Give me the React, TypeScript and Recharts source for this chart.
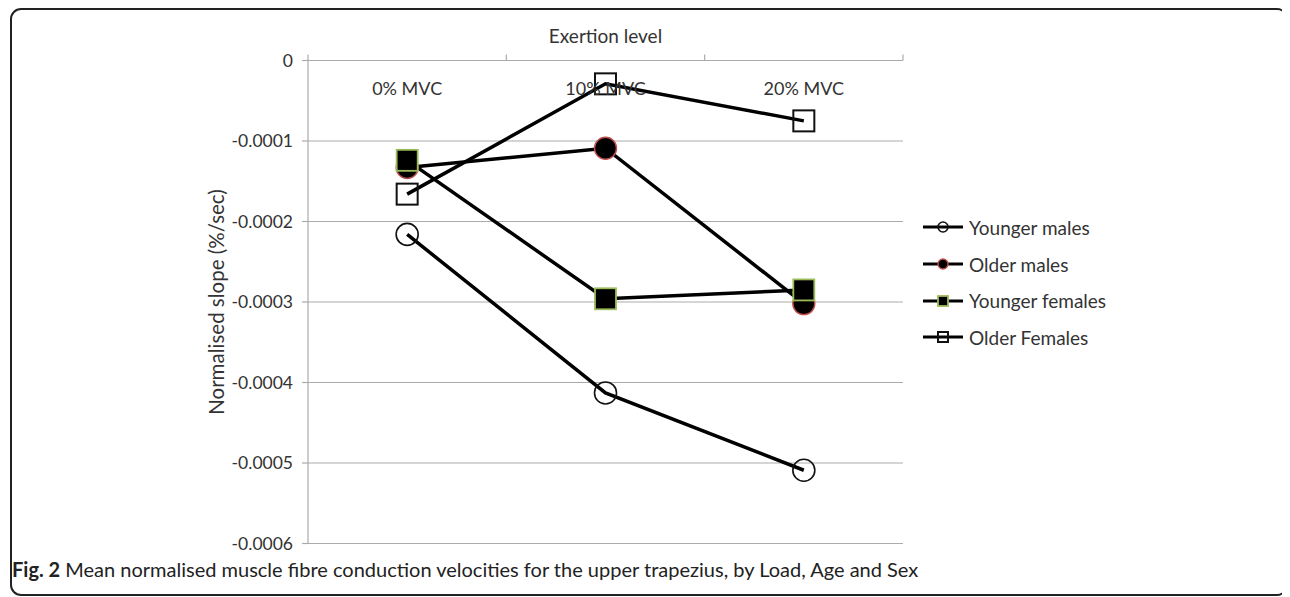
import React from 'react';
import { LineChart, Line, XAxis, YAxis, CartesianGrid, Legend } from 'recharts';

const categories = ['0% MVC', '10% MVC', '20% MVC'];
const youngerMales = [-0.000216, -0.000413, -0.000509];
const olderMales = [-0.000133, -0.000109, -0.000302];
const youngerFemales = [-0.000124, -0.000296, -0.000285];
const olderFemales = [-0.000166, -0.000029, -0.000075];
const yTicks = [0, -0.0001, -0.0002, -0.0003, -0.0004, -0.0005, -0.0006];
const xTicks = [0, 0.5, 1, 1.5, 2, 2.5, 3];

const data = categories.map((c, i) => ({
  pos: i + 0.5,
  cat: c,
  ym: youngerMales[i],
  om: olderMales[i],
  yf: youngerFemales[i],
  of: olderFemales[i],
}));

type Marker = 'openCircle' | 'filledCircle' | 'filledSquare' | 'openSquare';

const series: { key: string; name: string; marker: Marker }[] = [
  { key: 'ym', name: 'Younger males', marker: 'openCircle' },
  { key: 'om', name: 'Older males', marker: 'filledCircle' },
  { key: 'yf', name: 'Younger females', marker: 'filledSquare' },
  { key: 'of', name: 'Older Females', marker: 'openSquare' },
];

const FONT = 'Lato, "Open Sans", sans-serif';
const GRID = '#ababab';

function drawMarker(marker: Marker, cx: number, cy: number, size: number, key?: string) {
  const r = size / 2;
  switch (marker) {
    case 'openCircle':
      return <circle key={key} cx={cx} cy={cy} r={r} fill="none" stroke="#111" strokeWidth={1.6} />;
    case 'filledCircle':
      return <circle key={key} cx={cx} cy={cy} r={r} fill="#000" stroke="#c0504d" strokeWidth={1.4} />;
    case 'filledSquare':
      return <rect key={key} x={cx - r} y={cy - r} width={size} height={size} fill="#000" stroke="#9bbb59" strokeWidth={1.8} />;
    case 'openSquare':
    default:
      return <rect key={key} x={cx - r} y={cy - r} width={size} height={size} fill="none" stroke="#111" strokeWidth={2} />;
  }
}

const XTick = (props: any) => {
  const { x, y, payload } = props;
  const v = payload.value as number;
  if (Number.isInteger(v)) {
    return <line x1={x} y1={y} x2={x} y2={y - 6} stroke={GRID} strokeWidth={1.2} />;
  }
  return (
    <text x={x} y={y + 34} textAnchor="middle" fill="#333" fontSize={18} fontFamily={FONT}>
      {categories[Math.floor(v)]}
    </text>
  );
};

const LegendContent = () => (
  <div style={{ fontFamily: FONT, fontSize: 19, color: '#333' }}>
    {series.map((s) => (
      <div key={s.key} style={{ display: 'flex', alignItems: 'center', height: 36.7 }}>
        <svg width={42} height={20} style={{ display: 'block' }}>
          <line x1={0} y1={10} x2={40} y2={10} stroke="#000" strokeWidth={3} />
          {drawMarker(s.marker, 20, 10, 10)}
        </svg>
        <span style={{ marginLeft: 4, whiteSpace: 'nowrap' }}>{s.name}</span>
      </div>
    ))}
  </div>
);

export default function App() {
  return (
    <div style={{ position: 'relative', width: 1280, height: 589 }}>
      <div
        style={{
          position: 'absolute',
          left: 2,
          top: 0,
          width: 1278,
          height: 588,
          boxSizing: 'border-box',
          border: '2px solid #222',
          borderRadius: 11,
        }}
      />
      <div style={{ position: 'absolute', left: 0, top: 0 }}>
        <LineChart
          width={1280}
          height={589}
          data={data}
          margin={{ top: 12.5, right: 385, bottom: 53.5, left: 0 }}
        >
          <CartesianGrid vertical={false} stroke={GRID} strokeWidth={1.2} />
          <XAxis
            dataKey="pos"
            type="number"
            domain={[0, 3]}
            ticks={xTicks}
            orientation="top"
            height={40}
            axisLine={{ stroke: GRID, strokeWidth: 1.2 }}
            tickLine={false}
            tickSize={0}
            tickMargin={0}
            tick={<XTick />}
            interval={0}
            label={(p: any) => {
              const vb = p.viewBox || {};
              return (
                <text
                  x={vb.x + vb.width / 2}
                  y={vb.y + 22.5}
                  textAnchor="middle"
                  fill="#333"
                  fontSize={19}
                  fontFamily={FONT}
                >
                  Exertion level
                </text>
              );
            }}
          />
          <YAxis
            type="number"
            domain={[-0.0006, 0]}
            ticks={yTicks}
            width={300}
            interval={0}
            axisLine={{ stroke: GRID, strokeWidth: 1.2 }}
            tickLine={{ stroke: GRID, strokeWidth: 1.2 }}
            tickSize={6}
            tickMargin={9}
            tick={{ fill: '#333', fontSize: 17.5, fontFamily: FONT }}
            tickFormatter={(v: number) => (v === 0 ? '0' : v.toFixed(4))}
            label={(p: any) => {
              const vb = p.viewBox || {};
              const cx = vb.x + vb.width - 92;
              const cy = vb.y + vb.height / 2;
              return (
                <text
                  x={cx}
                  y={cy}
                  transform={`rotate(-90 ${cx} ${cy})`}
                  textAnchor="middle"
                  dominantBaseline="central"
                  fill="#333"
                  fontSize={20.5}
                  fontFamily={FONT}
                >
                  Normalised slope (%/sec)
                </text>
              );
            }}
          />
          {series.map((s) => (
            <Line
              key={s.key}
              dataKey={s.key}
              name={s.name}
              type="linear"
              stroke="#000"
              strokeWidth={3.5}
              isAnimationActive={false}
              dot={(dp: any) =>
                drawMarker(
                  s.marker,
                  dp.cx,
                  dp.cy,
                  s.marker.includes('Square') ? 21 : 22,
                  `${s.key}-${dp.index}`
                )
              }
              activeDot={false}
            />
          ))}
          <Legend
            layout="vertical"
            align="center"
            verticalAlign="middle"
            content={<LegendContent />}
            wrapperStyle={{ left: 915, top: 201, width: 260 }}
          />
        </LineChart>
      </div>
      <div
        style={{
          position: 'absolute',
          left: 4,
          top: 551,
          fontFamily: FONT,
          fontSize: 20,
          lineHeight: '20px',
          color: '#222',
          whiteSpace: 'nowrap',
        }}
      >
        <b>Fig. 2</b> Mean normalised muscle fibre conduction velocities for the upper trapezius, by Load, Age and Sex
      </div>
    </div>
  );
}
